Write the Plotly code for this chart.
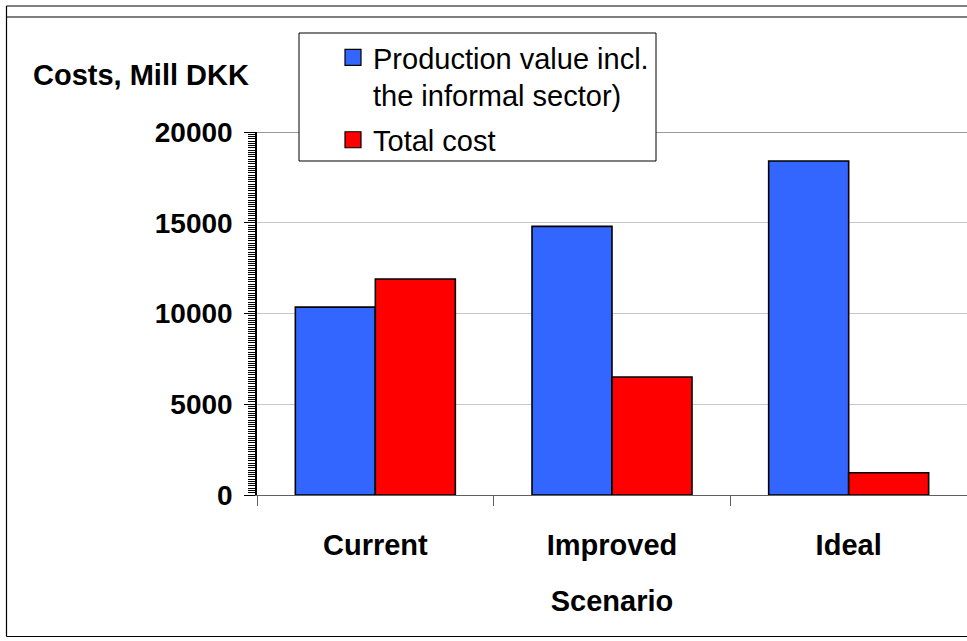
import plotly.graph_objects as go

categories = ["Current", "Improved", "Ideal"]
production_value = [10350, 14800, 18400]
total_cost = [11900, 6500, 1230]
series_names = ["Production value incl.<br>the informal sector)", "Total cost"]
y_ticks = [0, 5000, 10000, 15000, 20000]

BLUE = "#3366FF"
RED = "#FF0000"

W, H = 967, 641
L, R, T, B = 257, 967, 132, 495


def px(x):
    return (x - L) / (R - L)


def py(y):
    return (B - y) / (B - T)


FONT = "Liberation Sans"
FS = 29

fig = go.Figure()
fig.add_trace(go.Bar(x=categories, y=production_value, name=series_names[0],
                     marker=dict(color=BLUE, line=dict(color="black", width=1.6)),
                     showlegend=False))
fig.add_trace(go.Bar(x=categories, y=total_cost, name=series_names[1],
                     marker=dict(color=RED, line=dict(color="black", width=1.6)),
                     showlegend=False))
# legend swatches
for i, (nm, col) in enumerate(zip(series_names, [BLUE, RED])):
    fig.add_trace(go.Scatter(x=[None], y=[None], mode="markers", name=nm,
                             legendgroup=f"g{i}",
                             marker=dict(symbol="square", size=16, color=col,
                                         line=dict(color="black", width=1.2))))

shapes = [
    dict(type="line", xref="paper", yref="y", x0=0, x1=1, y0=20000, y1=20000,
         line=dict(color="#999999", width=2), layer="above"),
    dict(type="rect", xref="paper", yref="paper", x0=px(299), x1=px(656), y0=py(161), y1=py(33),
         fillcolor="white", line=dict(color="black", width=1), layer="above"),
    dict(type="line", xref="paper", yref="paper", x0=px(6.5), x1=px(6.5), y0=py(6), y1=py(636.5),
         line=dict(color="black", width=1.2), layer="above"),
    dict(type="line", xref="paper", yref="paper", x0=px(6.5), x1=px(970), y0=py(6), y1=py(6),
         line=dict(color="black", width=1.2), layer="above"),
    dict(type="line", xref="paper", yref="paper", x0=px(6.5), x1=px(970), y0=py(17), y1=py(17),
         line=dict(color="black", width=1.2), layer="above"),
    dict(type="line", xref="paper", yref="paper", x0=px(6.5), x1=px(970), y0=py(636.5), y1=py(636.5),
         line=dict(color="black", width=1.2), layer="above"),
]

fig.update_layout(
    width=W, height=H,
    margin=dict(l=L, r=W - R, t=T, b=H - B, pad=0),
    paper_bgcolor="white", plot_bgcolor="white",
    barmode="group", bargap=0.324, bargroupgap=0,
    font=dict(family=FONT, color="black", size=FS),
    shapes=shapes,
    legend=dict(x=px(333), y=py(32), xanchor="left", yanchor="top",
                bgcolor="rgba(0,0,0,0)", borderwidth=0,
                font=dict(family=FONT, size=FS, color="black"),
                valign="top", tracegroupgap=4),
    annotations=[dict(text="Costs, Mill DKK", xref="paper", yref="paper",
                      x=px(140.5), y=py(75), xanchor="center", yanchor="middle",
                      showarrow=False, font=dict(family=FONT, size=FS, weight="bold"))],
)

fig.update_xaxes(
    type="category", range=[-0.5, 2.5], tickson="boundaries",
    ticks="outside", ticklen=10, tickcolor="#606060", tickwidth=1,
    showline=True, linecolor="#606060", linewidth=1, showgrid=False, zeroline=False,
    tickfont=dict(family=FONT, size=FS, weight="bold"), ticklabelstandoff=24,
    title=dict(text="Scenario", font=dict(family=FONT, size=FS, weight="bold"), standoff=30),
)
fig.update_yaxes(
    range=[0, 20000], tickvals=y_ticks, ticktext=[str(v) for v in y_ticks],
    ticks="outside", ticklen=11, tickcolor="black", tickwidth=1,
    showline=True, linecolor="black", linewidth=1.5,
    showgrid=True, gridcolor="#c8c8c8", gridwidth=1, zeroline=False,
    tickfont=dict(family=FONT, size=28, weight="bold"), ticklabelstandoff=6,
    minor=dict(ticks="outside", ticklen=7, dtick=125, tickcolor="black", tickwidth=1, showgrid=False),
)

fig.write_html("out.html", config={"displayModeBar": False},
               post_script="document.body.style.margin='0';document.body.style.padding='0';")
